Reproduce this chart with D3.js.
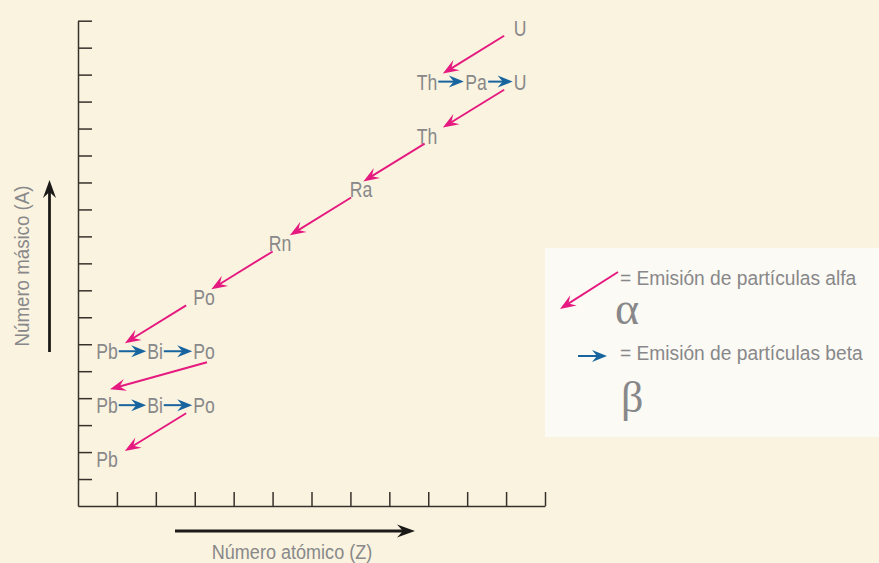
<!DOCTYPE html>
<html>
<head>
<meta charset="utf-8">
<script src="https://cdn.jsdelivr.net/npm/d3@7"></script>
<style>
  html, body { margin: 0; padding: 0; background: #FAF3DF; }
  svg { display: block; }
  text { font-family: "Liberation Sans", Arial, sans-serif; fill: #88888a; }
</style>
</head>
<body>
<svg id="chart" width="879" height="563"></svg>
<script>
// ---- data: uranium-238 decay series ----
const symbols       = ["U", "Th", "Pa", "U", "Th", "Ra", "Rn", "Po", "Pb", "Bi", "Po", "Pb", "Bi", "Po", "Pb"];
const atomicNumbers = [92, 90, 91, 92, 90, 88, 86, 84, 82, 83, 84, 82, 83, 84, 82];
const massNumbers   = [238, 234, 234, 234, 230, 226, 222, 218, 214, 214, 214, 210, 210, 210, 206];
// decay from nuclide i to nuclide i+1
const decayModes    = ["α", "β", "β", "α", "α", "α", "α", "α", "β", "β", "α", "β", "β", "α"];
const massTicks     = d3.range(204, 239, 2);
const zTicks        = d3.range(82, 94, 1);
const xTitle = "Número atómico (Z)";
const yTitle = "Número másico (A)";
const legendAlpha = "= Emisión de partículas alfa";
const legendBeta  = "= Emisión de partículas beta";

const MAGENTA = "#E5197F", BLUE = "#17649F", AXIS = "#37312c";

const svg = d3.select("#chart");

// ---- scales ----
const axisX = d3.scaleLinear().domain([81, 93]).range([78, 545]);
const y = d3.scaleLinear().domain([202, 238]).range([506, 20.7]);
// schematic horizontal placement of the element labels (spread to leave room for arrows)
const labelX = d3.scaleLinear()
  .domain([82, 83, 84, 86, 88, 90, 91, 92])
  .range([107, 155, 204, 280, 361, 427, 476, 520]);

// condensed text helper (horizontal squeeze like a condensed face)
function ctext(g, x, yy, str, size, anchor, sx, extra) {
  return g.append("text")
    .attr("transform", `translate(${x},${yy})${extra || ""} scale(${sx},1)`)
    .attr("text-anchor", anchor).attr("font-size", size).text(str);
}

// ---- legend box (behind) ----
svg.append("rect").attr("x", 545).attr("y", 248).attr("width", 334).attr("height", 189)
  .attr("fill", "#FCFAF4");

// ---- axes ----
svg.append("g").attr("transform", "translate(78,0)")
  .call(d3.axisRight(y).tickValues(massTicks).tickSize(14).tickSizeOuter(0).tickFormat(""));
svg.append("g").attr("transform", "translate(0,506)")
  .call(d3.axisTop(axisX).tickValues(zTicks).tickSize(14).tickSizeOuter(0).tickFormat(""));
svg.selectAll(".domain, .tick line").attr("stroke", AXIS).attr("stroke-width", 1.5);

// ---- arrow helper ----
function arrow(g, x1, y1, x2, y2, color, L, W, notch, sw) {
  const dx = x2 - x1, dy = y2 - y1, len = Math.hypot(dx, dy);
  const ux = dx / len, uy = dy / len, px = -uy, py = ux;
  const bx = x2 - ux * L, by = y2 - uy * L;
  const nx = x2 - ux * notch, ny = y2 - uy * notch;
  g.append("line").attr("x1", x1).attr("y1", y1).attr("x2", nx + ux).attr("y2", ny + uy)
    .attr("stroke", color).attr("stroke-width", sw);
  g.append("path")
    .attr("d", `M${x2},${y2}L${bx + px * W / 2},${by + py * W / 2}L${nx},${ny}L${bx - px * W / 2},${by - py * W / 2}Z`)
    .attr("fill", color);
}

// ---- nuclide labels ----
const LSX = 0.8, LFS = 22;
const nodes = symbols.map((s, i) => ({ s, z: atomicNumbers[i], a: massNumbers[i] }));
const gl = svg.append("g");
nodes.forEach(n => {
  n.cx = labelX(n.z);
  const t = ctext(gl, n.cx, y(n.a) + 15, n.s, LFS, "middle", LSX);
  const w = t.node().getBBox().width * LSX;
  n.x1 = n.cx - w / 2; n.x2 = n.cx + w / 2; n.cy = y(n.a) + 7;
  n.top = y(n.a) - 1; n.bottom = y(n.a) + 15;
});

// ---- decay arrows ----
const ga = svg.append("g");
const alphaDir = (() => { const l = Math.hypot(60, 37); return [-60 / l, 37 / l]; })();
const alphaLen = 72;
decayModes.forEach((m, i) => {
  const p = nodes[i], d = nodes[i + 1];
  if (m === "β") {
    arrow(ga, p.x2 + 1, p.cy, d.x1 - 1, d.cy, BLUE, 15, 12, 10, 2);
  } else {
    const fromBeta = i > 0 && decayModes[i - 1] === "β";
    const toBeta = decayModes[i + 1] === "β";
    if (fromBeta && toBeta) {
      arrow(ga, p.cx + 3, p.bottom + 3, d.cx + 3, d.top - 8, MAGENTA, 16, 12, 10, 1.9);
    } else {
      const mx = (p.cx + d.cx) / 2, my = (p.cy + d.cy) / 2;
      arrow(ga, mx - alphaDir[0] * alphaLen / 2, my - alphaDir[1] * alphaLen / 2,
                mx + alphaDir[0] * alphaLen / 2, my + alphaDir[1] * alphaLen / 2,
                MAGENTA, 16, 12, 10, 1.9);
    }
  }
});

// ---- axis direction arrows and titles ----
const gt = svg.append("g");
arrow(gt, 175, 531, 415, 531, "#1c1a19", 18, 13, 12, 2.8);
arrow(gt, 49.5, 352, 49.5, 180, "#1c1a19", 18, 13, 12, 2.8);
ctext(gt, 292, 559, xTitle, 21, "middle", 0.86);
ctext(gt, 29, 266, yTitle, 21, "middle", 0.89, " rotate(-90)");

// ---- legend ----
const lg = svg.append("g");
arrow(lg, 618, 272, 560, 309, MAGENTA, 16, 12, 10, 1.9);
arrow(lg, 578, 356, 607, 356, BLUE, 15, 12, 10, 2);
ctext(lg, 620, 285, legendAlpha, 20, "start", 0.96);
ctext(lg, 620, 360, legendBeta, 20, "start", 0.96);
lg.append("text").attr("x", 615).attr("y", 324).attr("font-size", 46)
  .style("font-family", "'Liberation Serif', 'DejaVu Serif', serif").text("α");
lg.append("text").attr("x", 621).attr("y", 412).attr("font-size", 44)
  .style("font-family", "'Liberation Serif', 'DejaVu Serif', serif").text("β");
</script>
</body>
</html>
